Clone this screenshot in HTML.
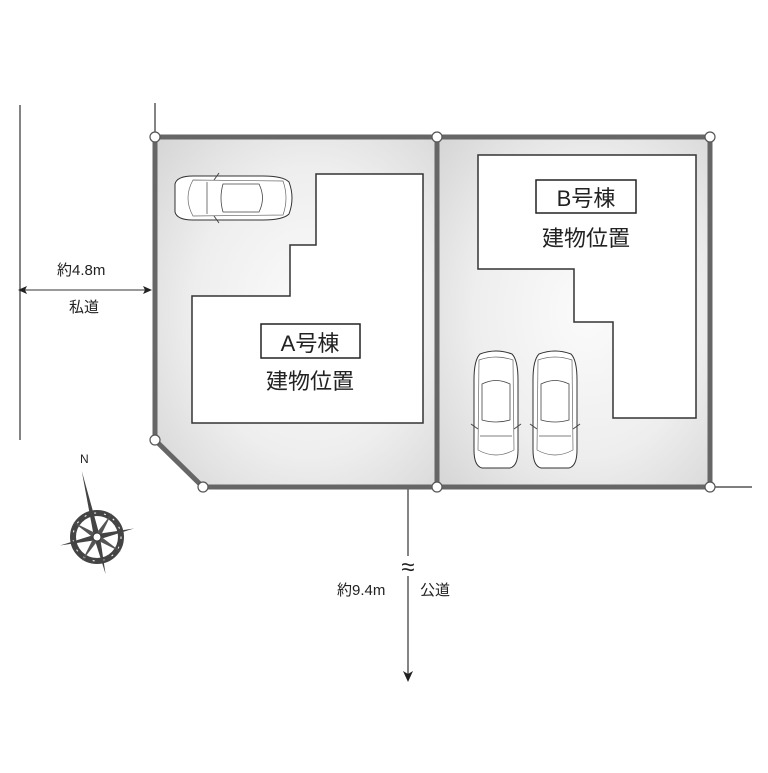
<!DOCTYPE html>
<html><head><meta charset="utf-8"><style>
body{margin:0;background:#fff;}
svg text{font-family:"Liberation Sans","Noto Sans CJK JP",sans-serif;fill:#222;}
</style></head><body>
<svg width="768" height="768" viewBox="0 0 768 768" xmlns="http://www.w3.org/2000/svg">
<defs>
<radialGradient id="g" cx="0.55" cy="0.5" r="0.75">
<stop offset="0" stop-color="#fbfbfb"/><stop offset="0.55" stop-color="#eeeeee"/><stop offset="1" stop-color="#d4d4d4"/>
</radialGradient>
<g id="carv">
<path d="M6 4 Q22 -2 38 4 Q44 10 44 30 L44 100 Q44 116 36 118 L8 118 Q0 116 0 100 L0 30 Q0 10 6 4 Z" fill="#fff" stroke="#333" stroke-width="1"/>
<path d="M5 10 Q22 4 39 10 L40 100 Q22 110 4 100 Z" fill="none" stroke="#666" stroke-width="0.7"/>
<path d="M8 34 Q22 27 36 34 L36 70 Q22 74 8 70 Z" fill="#fff" stroke="#444" stroke-width="0.8"/>
<line x1="6" y1="86" x2="38" y2="86" stroke="#555" stroke-width="0.8"/>
<line x1="-3" y1="74" x2="4" y2="79" stroke="#444"/><line x1="47" y1="74" x2="40" y2="79" stroke="#444"/>
</g>
</defs>
<line x1="20" y1="105" x2="20" y2="440" stroke="#333" stroke-width="1.2"/>
<line x1="155" y1="103" x2="155" y2="137" stroke="#333" stroke-width="1.2"/>
<line x1="20" y1="290" x2="148" y2="290" stroke="#333" stroke-width="1"/>
<path d="M152 290 L143 286 L145 290 L143 294 Z" fill="#222"/>
<path d="M18 290 L27 286 L25 290 L27 294 Z" fill="#222"/>
<text x="57" y="275" font-size="15">約4.8m</text>
<text x="69" y="312" font-size="15">私道</text>
<line x1="710" y1="487" x2="752" y2="487" stroke="#333" stroke-width="1.2"/>
<line x1="408" y1="487" x2="408" y2="556" stroke="#333" stroke-width="1.2"/>
<line x1="408" y1="576" x2="408" y2="676" stroke="#333" stroke-width="1.2"/>
<path d="M408 682 L403 671 L408 674 L413 671 Z" fill="#222"/>
<text x="408" y="575" font-size="24" text-anchor="middle">≈</text>
<text x="337" y="595" font-size="15">約9.4m</text>
<text x="420" y="595" font-size="15">公道</text>
<path d="M155 137 L437 137 L437 487 L203 487 L155 440 Z" fill="url(#g)" stroke="#666" stroke-width="5"/>
<path d="M437 137 L710 137 L710 487 L437 487 Z" fill="url(#g)" stroke="#666" stroke-width="5"/>
<path d="M316 174 L423 174 L423 423 L192 423 L192 296 L290 296 L290 245 L316 245 Z" fill="#fff" stroke="#333" stroke-width="1.5"/>
<path d="M478 155 L696 155 L696 418 L613 418 L613 322 L574 322 L574 269 L478 269 Z" fill="#fff" stroke="#333" stroke-width="1.5"/>
<rect x="261" y="324" width="99" height="34" fill="#fff" stroke="#222" stroke-width="1.5"/>
<text x="310" y="351" font-size="22" text-anchor="middle">A号棟</text>
<text x="310" y="389" font-size="22" text-anchor="middle">建物位置</text>
<rect x="536" y="180" width="100" height="33" fill="#fff" stroke="#222" stroke-width="1.5"/>
<text x="586" y="206" font-size="22" text-anchor="middle">B号棟</text>
<text x="586" y="246" font-size="22" text-anchor="middle">建物位置</text>
<g transform="translate(293,176) rotate(90)"><use href="#carv"/></g>
<use href="#carv" transform="translate(474,350)"/>
<use href="#carv" transform="translate(533,350)"/>
<g fill="#fff" stroke="#555" stroke-width="1.2">
<circle cx="155" cy="137" r="5"/><circle cx="437" cy="137" r="5"/><circle cx="710" cy="137" r="5"/>
<circle cx="155" cy="440" r="5"/><circle cx="203" cy="487" r="5"/><circle cx="437" cy="487" r="5"/><circle cx="710" cy="487" r="5"/>
</g>
<text x="80" y="463" font-size="12">N</text>
<g transform="translate(97,537)">
<circle r="24" fill="none" stroke="#444" stroke-width="6"/>
<circle r="24" fill="none" stroke="#fff" stroke-width="1" stroke-dasharray="2 8"/>
<g transform="rotate(-13)">
<path d="M0 -68 L3 0 L0 38 L-3 0 Z" fill="#444"/>
<path d="M-38 0 L0 -3 L38 0 L0 3 Z" fill="#444"/>
<path d="M-20 -20 L2 -2 L20 20 L-2 2 Z" fill="#555"/>
<path d="M20 -20 L2 2 L-20 20 L-2 -2 Z" fill="#555"/>
</g>
<circle r="4" fill="#fff" stroke="#333"/>
</g>
</svg>
</body></html>
